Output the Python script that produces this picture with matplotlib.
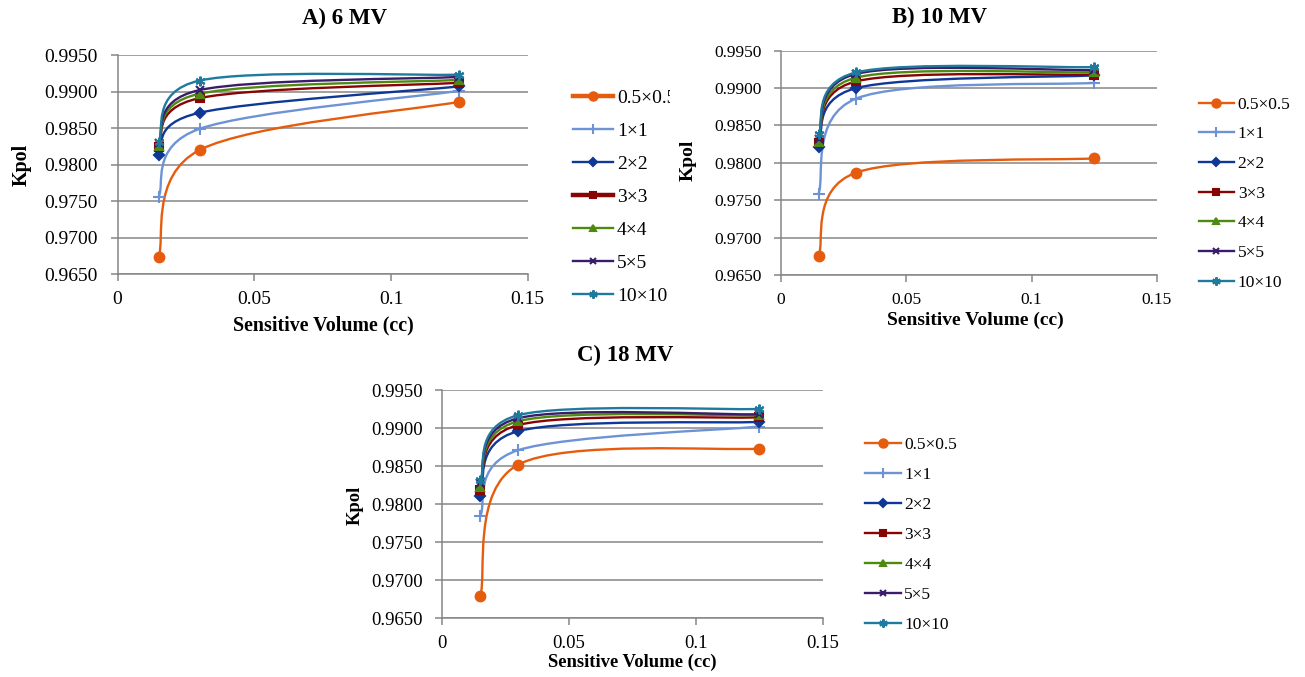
import matplotlib
matplotlib.use("Agg")
import matplotlib.pyplot as plt
from matplotlib.path import Path
from matplotlib.patches import PathPatch
from matplotlib.lines import Line2D
from matplotlib.transforms import Bbox
from matplotlib.ticker import FixedLocator, FuncFormatter

plt.rcParams['font.family'] = ['Liberation Serif', 'DejaVu Serif']

# 數據：靈敏體積 (cc) 與各射野的 Kpol
volume = [0.015, 0.03, 0.125]
fields = ['0.5×0.5', '1×1', '2×2', '3×3', '4×4', '5×5', '10×10']

kpol_6mv = {
    '0.5×0.5': [0.9673, 0.9820, 0.9886],
    '1×1':     [0.9756, 0.9849, 0.9901],
    '2×2':     [0.9813, 0.9871, 0.9907],
    '3×3':     [0.9824, 0.9891, 0.9912],
    '4×4':     [0.9826, 0.9897, 0.9916],
    '5×5':     [0.9829, 0.9902, 0.9920],
    '10×10':   [0.9831, 0.9915, 0.9923],
}
kpol_10mv = {
    '0.5×0.5': [0.9675, 0.9787, 0.9806],
    '1×1':     [0.9759, 0.9886, 0.9907],
    '2×2':     [0.9821, 0.9900, 0.9917],
    '3×3':     [0.9826, 0.9909, 0.9918],
    '4×4':     [0.9828, 0.9914, 0.9921],
    '5×5':     [0.9832, 0.9919, 0.9924],
    '10×10':   [0.9838, 0.9921, 0.9928],
}
kpol_18mv = {
    '0.5×0.5': [0.9679, 0.9852, 0.9873],
    '1×1':     [0.9785, 0.9871, 0.9902],
    '2×2':     [0.9811, 0.9896, 0.9908],
    '3×3':     [0.9819, 0.9904, 0.9914],
    '4×4':     [0.9823, 0.9909, 0.9917],
    '5×5':     [0.9828, 0.9913, 0.9918],
    '10×10':   [0.9832, 0.9917, 0.9925],
}

y_ticks = [0.9650, 0.9700, 0.9750, 0.9800, 0.9850, 0.9900, 0.9950]
x_ticks = [0, 0.05, 0.1, 0.15]
x_tick_labels = ['0', '0.05', '0.1', '0.15']

colors = ['#E65C0E', '#6D93D6', '#0F3896', '#880404', '#4E8A0E', '#3A1C6B', '#1F7A9E']
markers = ['o', '+', 'D', 's', '^', 'x', (6, 2, 0)]
msizes = [7, 8, 5, 6, 6, 6, 7]

W, H = 1305, 677


def smooth_path(xs, ys):
    # Excel 式平滑線：Catmull-Rom 轉 Bezier
    pts = list(zip(xs, ys))
    n = len(pts)
    verts = [pts[0]]
    codes = [Path.MOVETO]
    for i in range(n - 1):
        p0 = pts[max(i - 1, 0)]
        p1 = pts[i]
        p2 = pts[i + 1]
        p3 = pts[min(i + 2, n - 1)]
        c1 = (p1[0] + (p2[0] - p0[0]) / 6, p1[1] + (p2[1] - p0[1]) / 6)
        c2 = (p2[0] - (p3[0] - p1[0]) / 6, p2[1] - (p3[1] - p1[1]) / 6)
        verts += [c1, c2, p2]
        codes += [Path.CURVE4] * 3
    return Path(verts, codes)


def px_rect(l, t, r, b):
    return [l / W, 1 - b / H, (r - l) / W, (b - t) / H]


fig = plt.figure(figsize=(W / 100, H / 100), dpi=100)

panels = [
    dict(data=kpol_6mv, title='A) 6 MV', rect=px_rect(117.5, 55, 527.7, 274.3), tick=14,
         title_xy=(345, 18), ylab_xy=(22, 165), xlab_xy=(323, 325), lab=14.4,
         leg_xy=(573, 89.5), leg_space=0.79, leg_fs=14, hl=2.06, htp=0.2),
    dict(data=kpol_10mv, title='B) 10 MV', rect=px_rect(781, 50.7, 1157, 275), tick=12.5,
         title_xy=(940, 17), ylab_xy=(688, 160), xlab_xy=(975, 320), lab=14,
         leg_xy=(1199, 96.5), leg_space=0.78, leg_fs=12.5, hl=2.0, htp=0.23),
    dict(data=kpol_18mv, title='C) 18 MV', rect=px_rect(442.3, 390, 822.7, 618.3), tick=13.5,
         title_xy=(625, 355), ylab_xy=(355, 505), xlab_xy=(632, 662), lab=13.4,
         leg_xy=(865, 437), leg_space=0.8, leg_fs=12.5, hl=2.07, htp=0.2),
]

for k, p in enumerate(panels):
    ax = fig.add_axes(p['rect'])
    handles = []
    for i, f in enumerate(fields):
        ys = p['data'][f]
        patch = PathPatch(smooth_path(volume, ys), facecolor='none', edgecolor=colors[i],
                          lw=1.7, zorder=2 + i, capstyle='round')
        ax.add_patch(patch)
        ax.plot(volume, ys, linestyle='none', marker=markers[i], ms=msizes[i],
                color=colors[i], mec=colors[i], mew=1.5, zorder=3 + i)
        handles.append(Line2D([], [], color=colors[i], lw=1.7, marker=markers[i],
                              ms=msizes[i] - 1, mew=1.5, label=f))
    ax.set_xlim(0, 0.15)
    ax.set_ylim(0.9650, 0.9950)
    ax.yaxis.set_major_locator(FixedLocator(y_ticks))
    ax.yaxis.set_major_formatter(FuncFormatter(lambda v, pos: f'{v:.4f}'))
    ax.set_xticks(x_ticks)
    ax.set_xticklabels(x_tick_labels)
    ax.grid(axis='y', color='#868686', lw=1.1, zorder=0)
    ax.set_axisbelow(True)
    for s in ['top', 'right']:
        ax.spines[s].set_visible(False)
    for s in ['left', 'bottom']:
        ax.spines[s].set_color('#868686')
        ax.spines[s].set_linewidth(1.1)
    ax.tick_params(axis='both', colors='#868686', labelcolor='black', length=5,
                   width=1.1, labelsize=p['tick'])
    ax.tick_params(axis='y', pad=9)
    ax.tick_params(axis='x', pad=7)

    fig.text(p['title_xy'][0] / W, 1 - p['title_xy'][1] / H, p['title'], ha='center',
             va='center', fontsize=16.5, fontweight='bold')
    fig.text(p['ylab_xy'][0] / W, 1 - p['ylab_xy'][1] / H, 'Kpol', ha='center',
             va='center', rotation=90, fontsize=p['lab'], fontweight='bold')
    fig.text(p['xlab_xy'][0] / W, 1 - p['xlab_xy'][1] / H, 'Sensitive Volume (cc)',
             ha='center', va='center', fontsize=p['lab'], fontweight='bold')

    leg = fig.legend(handles=handles, loc='upper left',
                     bbox_to_anchor=(p['leg_xy'][0] / W, 1 - p['leg_xy'][1] / H),
                     frameon=False, fontsize=p['leg_fs'], handlelength=p['hl'],
                     handletextpad=p['htp'], labelspacing=p['leg_space'], borderaxespad=0,
                     borderpad=0)
    if k == 0:
        # A 圖圖例的第一項與 3×3 線條較粗，文字被右側截斷
        leg.get_lines()[0].set_linewidth(3.2)
        leg.get_lines()[3].set_linewidth(3.2)
        clip = Bbox([[0, 0], [670, H]])
        for t in leg.get_texts():
            t.set_clip_box(clip)
            t.set_clip_on(True)

fig.savefig('out.png', dpi=100)
